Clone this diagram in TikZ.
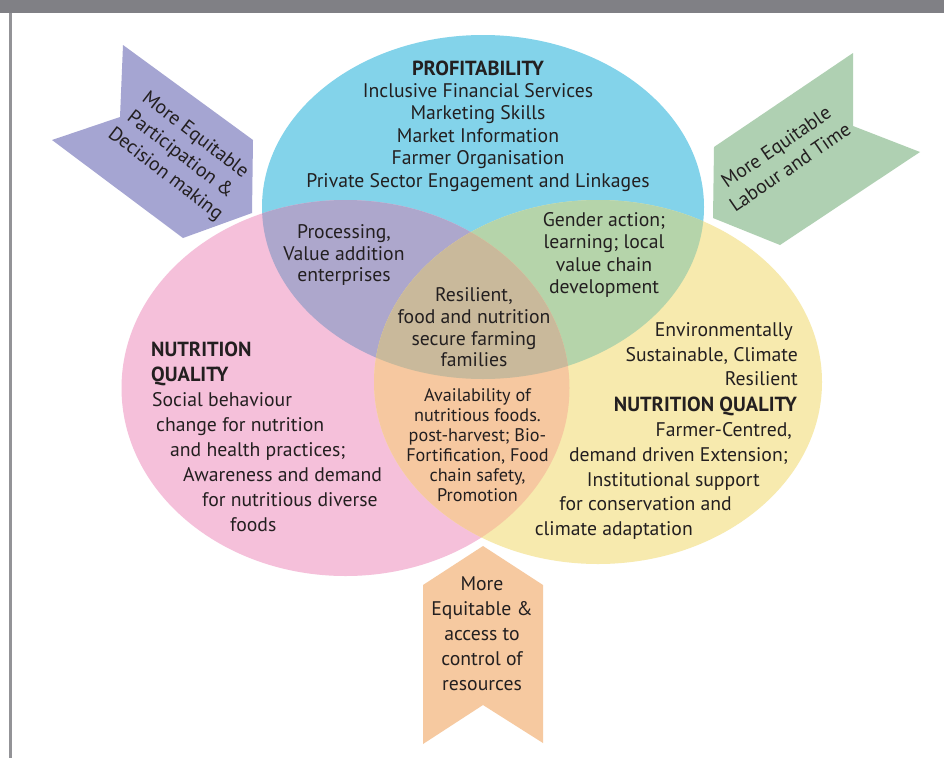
\documentclass[tikz,border=0pt]{standalone}
\usepackage{fontspec}
\setmainfont{PT Sans}
\definecolor{ink}{HTML}{231F20}
\definecolor{barc}{HTML}{808085}
\definecolor{cblue}{HTML}{83D3EA}
\definecolor{cpink}{HTML}{F5C0DA}
\definecolor{cyell}{HTML}{F7EAAE}
\definecolor{cpurp}{HTML}{ADA7CC}
\definecolor{cgreen}{HTML}{B5D4AA}
\definecolor{corange}{HTML}{F6C8A0}
\definecolor{ccent}{HTML}{C9B99B}
\definecolor{apurp}{HTML}{A5A5D2}
\definecolor{agreen}{HTML}{AFD0B2}
\definecolor{aorange}{HTML}{F6C9A0}
\begin{document}
\begin{tikzpicture}[x=1pt,y=-1pt,
  txt/.style={font=\fontsize{19.7}{22.4}\selectfont, text=ink, inner sep=0pt, anchor=base},
  stxt/.style={font=\fontsize{18.2}{20}\selectfont, text=ink, inner sep=0pt, anchor=base},
  btxt/.style={txt, font=\fontsize{20.4}{22.4}\selectfont\bfseries},
  rtxt/.style={font=\fontsize{19.7}{24.5}\selectfont, text=ink, inner sep=0pt, align=center, anchor=center}]
\useasboundingbox (0,0) rectangle (944,758);
\fill[white] (0,0) rectangle (944,758);
% header bar and frame line
\fill[barc] (0,0) rectangle (944,12.7);
\draw[line width=3pt, barc!85] (10,12.7) -- (10,758);
% arrows
\fill[apurp] (123,45) -- (253,140) -- (252,213) -- (183,238) -- (52,140) -- (120,117) -- cycle;
\fill[agreen] (853,53) -- (853,126) -- (920,152) -- (780,245) -- (713,218) -- (714,147) -- cycle;
\fill[aorange] (483,546) -- (543,585) -- (543,743) -- (483,705) -- (423,744) -- (423,585) -- cycle;
% circles
\def\blueE{(483,207) ellipse [x radius=221pt, y radius=172pt]}
\def\pinkE{(345.5,388) ellipse [x radius=224pt, y radius=188pt]}
\def\yellE{(598,382) ellipse [x radius=224pt, y radius=182pt]}
\fill[cblue] \blueE;
\fill[cpink] \pinkE;
\fill[cyell] \yellE;
\begin{scope}\clip \blueE; \fill[cpurp] \pinkE; \end{scope}
\begin{scope}\clip \blueE; \fill[cgreen] \yellE; \end{scope}
\begin{scope}\clip \pinkE; \fill[corange] \yellE; \end{scope}
\begin{scope}\clip \blueE; \clip \pinkE; \fill[ccent] \yellE; \end{scope}
% blue text
\node[btxt] (bt1) at (478,75) {PROFITABILITY};
\foreach \t [count=\i] in {{Inclusive Financial Services},{Marketing Skills},{Market Information},{Farmer Organisation},{Private Sector Engagement and Linkages}}
  \node[txt] (bt\i x) at (478,{75+22.4*\i}) {\t};
% purple overlap
\foreach \t [count=\i] in {{Processing,},{Value addition},{enterprises}}
  \node[txt] (pu\i) at (344,{238.5+21.7*(\i-1)}) {\t};
% green overlap
\foreach \t [count=\i] in {{Gender action;},{learning; local},{value chain},{development}}
  \node[txt] (gr\i) at (604,{226.7+22.2*(\i-1)}) {\t};
% centre
\foreach \t [count=\i] in {{Resilient,},{food and nutrition},{secure farming},{families}}
  \node[txt] (ce\i) at (474,{301.7+21.7*(\i-1)}) {\t};
% orange overlap
\foreach \t [count=\i] in {{Availability of},{nutritious foods.},{post-harvest; Bio-},{Fortification, Food},{chain safety,},{Promotion}}
  \node[stxt] (or\i) at (477.5,{401.7+20*(\i-1)}) {\t};
% pink text
\node[btxt, anchor=base west] (pk1) at (151,356.7) {NUTRITION};
\node[btxt, anchor=base west] (pk2) at (151,381.7) {QUALITY};
\node[txt, anchor=base west] (pk3) at (152,406.7) {Social behaviour};
\node[txt, anchor=base west] (pk4) at (156,431.7) {change for nutrition};
\node[txt, anchor=base west] (pk5) at (170,456.7) {and health practices;};
\node[txt, anchor=base west] (pk6) at (183,481.7) {Awareness and demand};
\node[txt, anchor=base west] (pk7) at (202,506.7) {for nutritious diverse};
\node[txt, anchor=base west] (pk8) at (230,531.7) {foods};
% yellow text
\node[txt, anchor=base east] (ye1) at (793,336.7) {Environmentally};
\node[txt, anchor=base east] (ye2) at (798,361.7) {Sustainable, Climate};
\node[txt, anchor=base east] (ye3) at (798,385.5) {Resilient};
\node[btxt, anchor=base east] (ye4) at (797,411.2) {NUTRITION QUALITY};
\node[txt, anchor=base east] (ye5) at (792,436.7) {Farmer-Centred,};
\node[txt, anchor=base east] (ye6) at (788,461.2) {demand driven Extension;};
\node[txt, anchor=base east] (ye7) at (760,486.2) {Institutional support};
\node[txt, anchor=base east] (ye8) at (732,510.7) {for conservation and};
\node[txt, anchor=base east] (ye9) at (693,535.2) {climate adaptation};
% arrow texts
\node[rtxt, rotate=-37.5] (pa) at (180,155) {More Equitable\\Participation \&\\Decision making};
\node[rtxt, rotate=34.5] (ga) at (783,157) {More Equitable\\Labour and Time};
\foreach \t [count=\i] in {{More},{Equitable \&},{access to},{control of},{resources}}
  \node[txt] (oa\i) at (482,{590+25*(\i-1)}) {\t};
\end{tikzpicture}
\end{document}
